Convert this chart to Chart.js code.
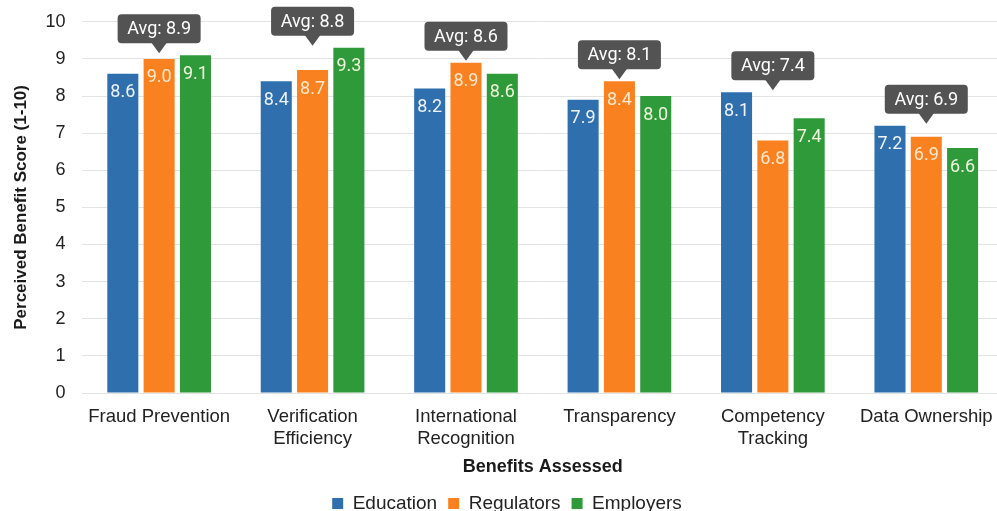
<!DOCTYPE html>
<html>
<head>
<meta charset="utf-8">
<script src="https://cdn.jsdelivr.net/npm/chart.js@4.4.1/dist/chart.umd.min.js"></script>
<style>
html, body { margin: 0; padding: 0; background: #fff; overflow: hidden; }
#wrap { width: 1003px; height: 511px; }
</style>
</head>
<body>
<div id="wrap"><canvas id="benefitChart"></canvas></div>
<script>
var categories = [
    ["Fraud Prevention"],
    ["Verification", "Efficiency"],
    ["International", "Recognition"],
    ["Transparency"],
    ["Competency", "Tracking"],
    ["Data Ownership"]
];
var education = [8.6, 8.4, 8.2, 7.9, 8.1, 7.2];
var regulators = [9.0, 8.7, 8.9, 8.4, 6.8, 6.9];
var employers = [9.1, 9.3, 8.6, 8.0, 7.4, 6.6];
var averages = [8.9, 8.8, 8.6, 8.1, 7.4, 6.9];

var axisFont = "'Liberation Sans', Arial, sans-serif";
var labelFont = "Roboto, 'Liberation Sans', sans-serif";

// White value labels inside the bars, near the top.
const valueLabels = {
    id: 'valueLabels',
    afterDatasetsDraw(chart) {
        const ctx = chart.ctx;
        ctx.save();
        ctx.font = "18px " + labelFont;
        ctx.textAlign = 'center';
        ctx.textBaseline = 'middle';
        chart.data.datasets.forEach((ds, di) => {
            const meta = chart.getDatasetMeta(di);
            meta.data.forEach((bar, i) => {
                ctx.fillStyle = ds.labelColor;
                ctx.fillText(ds.data[i].toFixed(1), bar.x, bar.y + 19);
            });
        });
        ctx.restore();
    }
};

// Dark "Avg" callouts above each group.
const avgCallouts = {
    id: 'avgCallouts',
    afterDatasetsDraw(chart) {
        const ctx = chart.ctx;
        const x = chart.scales.x, y = chart.scales.y;
        ctx.save();
        ctx.font = "18px " + labelFont;
        averages.forEach((avg, i) => {
            const top = Math.max(education[i], regulators[i], employers[i]);
            const cx = x.getPixelForValue(i);
            const tip = y.getPixelForValue(top) - 2;
            const bottom = tip - 10;
            const h = 29, w = 83;
            const boxTop = bottom - h;
            ctx.fillStyle = '#535353';
            ctx.beginPath();
            ctx.roundRect(cx - w / 2, boxTop, w, h, 4);
            ctx.fill();
            ctx.beginPath();
            ctx.moveTo(cx - 8, bottom - 1);
            ctx.lineTo(cx + 8, bottom - 1);
            ctx.lineTo(cx, tip);
            ctx.closePath();
            ctx.fill();
            ctx.fillStyle = '#ffffff';
            ctx.textAlign = 'center';
            ctx.textBaseline = 'middle';
            ctx.fillText('Avg: ' + avg.toFixed(1), cx, boxTop + h / 2 + 1);
        });
        ctx.restore();
    }
};

const ctx = document.getElementById('benefitChart').getContext('2d');
const myChart = new Chart(ctx, {
    type: 'bar',
    data: {
        labels: categories,
        datasets: [
            { label: 'Education', data: education, backgroundColor: '#2f6fae', labelColor: '#eef3fa' },
            { label: 'Regulators', data: regulators, backgroundColor: '#fa8120', labelColor: '#fde9cf' },
            { label: 'Employers', data: employers, backgroundColor: '#2f9a3a', labelColor: '#eef5dc' }
        ]
    },
    options: {
        responsive: true,
        maintainAspectRatio: false,
        animation: false,
        events: [],
        categoryPercentage: 0.71,
        barPercentage: 0.855,
        layout: { padding: { top: 0, right: 0, left: 11, bottom: -12 } },
        plugins: {
            legend: {
                position: 'bottom',
                labels: {
                    boxWidth: 11,
                    boxHeight: 11,
                    padding: 11,
                    color: '#222',
                    font: { size: 19, family: axisFont }
                }
            },
            tooltip: { enabled: false }
        },
        scales: {
            x: {
                grid: { display: false },
                border: { display: false },
                ticks: {
                    color: '#222',
                    maxRotation: 0,
                    padding: 5,
                    font: { size: 18.5, family: axisFont, lineHeight: 1.2 }
                },
                title: {
                    display: true,
                    text: 'Benefits Assessed',
                    color: '#1a1a1a',
                    padding: { top: 1, bottom: 5 },
                    font: { size: 18, weight: 'bold', family: axisFont }
                }
            },
            y: {
                min: 0,
                max: 10,
                grid: { color: '#e3e3e3', drawTicks: true, tickLength: 6, tickColor: 'rgba(0,0,0,0)' },
                border: { display: false },
                ticks: {
                    stepSize: 1,
                    color: '#222',
                    padding: 11,
                    font: { size: 18, family: axisFont }
                },
                title: {
                    display: true,
                    text: 'Perceived Benefit Score (1-10)',
                    color: '#1a1a1a',
                    padding: { top: 0, bottom: 3 },
                    font: { size: 17, weight: 'bold', family: axisFont }
                }
            }
        }
    },
    plugins: [valueLabels, avgCallouts]
});
</script>
</body>
</html>
